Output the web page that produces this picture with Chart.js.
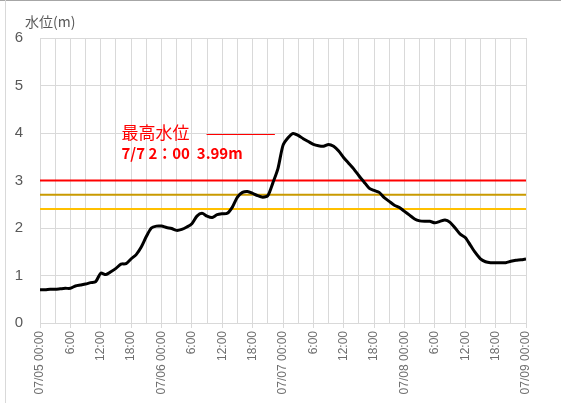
<!DOCTYPE html>
<html>
<head>
<meta charset="utf-8">
<script src="https://cdn.jsdelivr.net/npm/chart.js@4.4.1/dist/chart.umd.min.js"></script>
<style>
  html, body { margin: 0; padding: 0; background: #ffffff; }
  #wrap { position: relative; width: 561px; height: 403px; overflow: hidden; }
  #frameTop { position: absolute; left: 0; top: 0; width: 561px; height: 1px; background: #a6a6a6; }
  #frameLeft { position: absolute; left: 5px; top: 0; width: 1px; height: 403px; background: #d9d9d9; }
  canvas { position: absolute; left: 0; top: 0; }
</style>
</head>
<body>
<div id="wrap">
  <canvas id="c" width="561" height="403"></canvas>
  <div id="frameTop"></div>
  <div id="frameLeft"></div>
</div>
<script>
// Hourly water level (m), 07/05 00:00 through 07/09 00:00 (index = hours elapsed)
const levels = [
  0.70, 0.70, 0.71, 0.71, 0.72, 0.73, 0.73, 0.78, 0.80, 0.82, 0.85, 0.87,
  1.05, 1.02, 1.08, 1.15, 1.24, 1.25, 1.35, 1.44, 1.60, 1.82, 2.00, 2.04,
  2.04, 2.01, 1.99, 1.95, 1.97, 2.02, 2.09, 2.25, 2.31, 2.25, 2.22, 2.28,
  2.30, 2.31, 2.44, 2.65, 2.75, 2.77, 2.73, 2.68, 2.65, 2.68, 2.95, 3.25,
  3.74, 3.90, 3.99, 3.95, 3.88, 3.82, 3.76, 3.73, 3.72, 3.76, 3.72, 3.62,
  3.48, 3.36, 3.24, 3.10, 2.97, 2.84, 2.79, 2.75, 2.64, 2.56, 2.48, 2.43,
  2.35, 2.27, 2.19, 2.15, 2.14, 2.14, 2.11, 2.14, 2.17, 2.12, 2.00, 1.87,
  1.80, 1.64, 1.48, 1.35, 1.29, 1.27, 1.27, 1.27, 1.27, 1.30, 1.32, 1.33,
  1.35
];

// Warning thresholds (m) and their colours
const thresholdValues = [3.0, 2.7, 2.4];
const thresholdColors = ['#ff0000', '#c99a00', '#ffc000'];

// Time-axis labels, one per 6 hours
const timeLabels = [
  '07/05 00:00', '6:00', '12:00', '18:00',
  '07/06 00:00', '6:00', '12:00', '18:00',
  '07/07 00:00', '6:00', '12:00', '18:00',
  '07/08 00:00', '6:00', '12:00', '18:00',
  '07/09 00:00'
];

const yTickLabels = ['0', '1', '2', '3', '4', '5', '6'];

const peakHour = 50;
const peakLabelTitle = '最高水位';
const peakLabelValue = '7/7 2：00  ' + levels[peakHour].toFixed(2) + 'm';

const lastHour = levels.length - 1;
const levelPoints = levels.map((v, i) => ({ x: i, y: v }));

const thresholdSets = thresholdValues.map((v, i) => ({
  data: [{ x: 0, y: v }, { x: lastHour, y: v }],
  borderColor: thresholdColors[i],
  borderWidth: 2,
  pointRadius: 0,
  fill: false,
  order: 2
}));

// Axis title and peak annotation, drawn in scale coordinates
const notes = {
  id: 'notes',
  afterDatasetsDraw(chart) {
    const { ctx, scales: { x, y } } = chart;
    ctx.save();
    ctx.fillStyle = '#595959';
    ctx.font = '14px "Noto Sans CJK JP"';
    ctx.textAlign = 'left';
    ctx.textBaseline = 'alphabetic';
    ctx.fillText('水位(m)', 25, 27);

    ctx.fillStyle = '#ff0000';
    ctx.font = '17px "Noto Sans CJK JP"';
    ctx.textBaseline = 'middle';
    ctx.fillText(peakLabelTitle, x.getPixelForValue(16.1), y.getPixelForValue(4.02));
    ctx.font = 'bold 15px "Noto Sans CJK JP"';
    ctx.fillText(peakLabelValue, x.getPixelForValue(16.1), y.getPixelForValue(3.58));

    ctx.strokeStyle = '#ff0000';
    ctx.lineWidth = 1;
    const ly = Math.round(y.getPixelForValue(3.98)) + 0.5;
    ctx.beginPath();
    ctx.moveTo(x.getPixelForValue(32.9), ly);
    ctx.lineTo(x.getPixelForValue(46.4), ly);
    ctx.stroke();
    ctx.restore();
  }
};

new Chart(document.getElementById('c'), {
  type: 'line',
  data: {
    datasets: [
      {
        data: levelPoints,
        borderColor: '#000000',
        borderWidth: 3,
        pointRadius: 0,
        tension: 0.25,
        fill: false,
        order: 1
      },
      ...thresholdSets
    ]
  },
  options: {
    responsive: false,
    animation: false,
    layout: { padding: { top: 38, right: 35, left: 0, bottom: 0 } },
    plugins: { legend: { display: false }, tooltip: { enabled: false } },
    scales: {
      x: {
        type: 'linear',
        min: 0,
        max: lastHour,
        afterFit(scale) { scale.height = 80; },
        border: { display: true, color: '#d9d9d9', width: 1 },
        grid: {
          color: '#d9d9d9',
          lineWidth: 1,
          drawTicks: true,
          tickLength: 5,
          tickColor: (c) => (c.tick && c.tick.value % 6 === 0) ? '#d9d9d9' : 'rgba(0,0,0,0)'
        },
        ticks: {
          stepSize: 3,
          autoSkip: false,
          minRotation: 90,
          maxRotation: 90,
          padding: 3,
          color: '#6f6f6f',
          font: { family: 'Liberation Sans', size: 12 },
          callback: (v) => (v % 6 === 0) ? timeLabels[v / 6] : ''
        }
      },
      y: {
        min: 0,
        max: 6,
        afterFit(scale) { scale.width = 40; },
        border: { display: false },
        grid: { color: '#d9d9d9', lineWidth: 1, drawTicks: false },
        ticks: {
          stepSize: 1,
          padding: 17,
          color: '#595959',
          font: { family: 'Liberation Sans', size: 15 },
          callback: (v) => yTickLabels[v]
        }
      }
    }
  },
  plugins: [notes]
});
</script>
</body>
</html>
